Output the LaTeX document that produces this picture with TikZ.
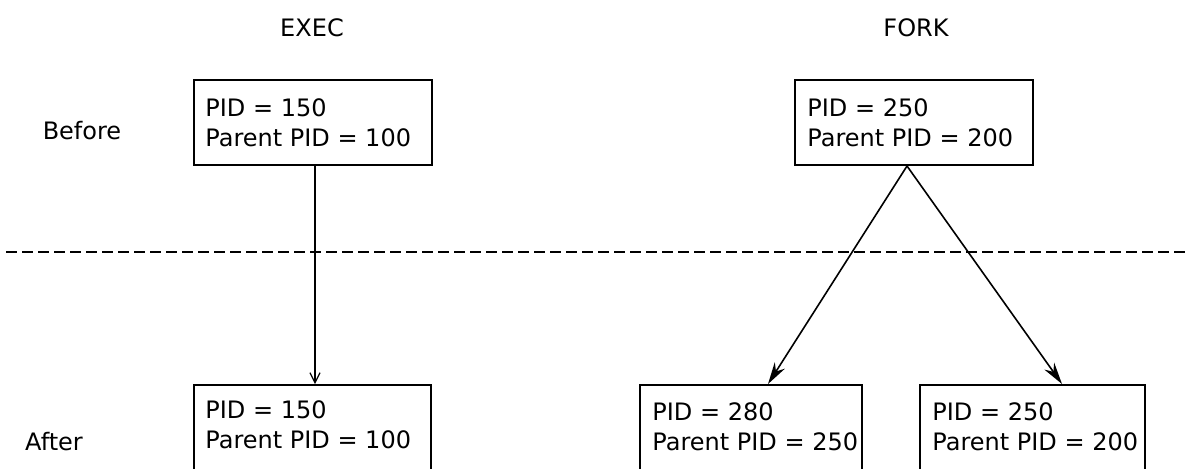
\documentclass[tikz,border=0pt]{standalone}
\usepackage{fontspec}
\setmainfont{DejaVu Sans}
\usetikzlibrary{arrows.meta,calc}

\begin{document}
\begin{tikzpicture}[x=0.5pt,y=-0.5pt,
  procbox/.style={draw, line width=1pt, rectangle, inner sep=0pt},
  boxtext/.style={anchor=north west, inner sep=0pt, align=left,
    font=\fontsize{12}{15}\selectfont},
  lbl/.style={inner sep=0pt, font=\fontsize{12}{15}\selectfont},
  link/.style={line width=0.8pt},
  forkarrow/.style={link, -{Stealth[length=11pt,width=6pt]}},
  execarrow/.style={link, -{Straight Barb[length=5pt,width=5pt,line width=0.6pt]}},
  divider/.style={line width=1pt, dash pattern=on 5.5pt off 2.5pt}
]
\useasboundingbox (0,0) rectangle (1188,468);
\clip (0,0) rectangle (1188,468);

% column and row headings
\node[lbl] (hexec) at (312,28) {EXEC};
\node[lbl] (hfork) at (916,28) {FORK};
\node[lbl] (hbefore) at (82,131) {Before};
\node[lbl] (hafter) at (54,442) {After};

% before / after divider
\coordinate (sepL) at (6,252);
\coordinate (sepR) at (1188,252);
\draw[divider] (sepL) -- (sepR);

% process boxes
\node[procbox, minimum width=119pt, minimum height=42.5pt] (A) at (313,122.5) {};
\node[procbox, minimum width=118.5pt, minimum height=50pt] (B) at (312.5,435) {};
\node[procbox, minimum width=119pt, minimum height=42.5pt] (C) at (914,122.5) {};
\node[procbox, minimum width=111pt, minimum height=50pt] (D) at (751,435) {};
\node[procbox, minimum width=112.5pt, minimum height=50pt] (E) at (1032.5,435) {};

% box contents
\node[boxtext] (At) at (205,98) {PID = 150\\Parent PID = 100};
\node[boxtext] (Bt) at (205,400) {PID = 150\\Parent PID = 100};
\node[boxtext] (Ct) at (807,98) {PID = 250\\Parent PID = 200};
\node[boxtext] (Dt) at (652,402) {PID = 280\\Parent PID = 250};
\node[boxtext] (Et) at (932,402) {PID = 250\\Parent PID = 200};

% exec: same process continues
\coordinate (execx) at (315,0);
\draw[execarrow] (A.south -| execx) -- (B.north -| execx);

% fork: parent splits into child and parent
\coordinate (apex) at ($(C.south)+(-7,0)$);
\coordinate (childtip) at ($(D.north)+(17,0)$);
\coordinate (parenttip) at ($(E.north)+(29.5,0)$);
\draw[forkarrow] (apex) -- (childtip);
\draw[forkarrow] (apex) -- (parenttip);
\end{tikzpicture}
\end{document}
